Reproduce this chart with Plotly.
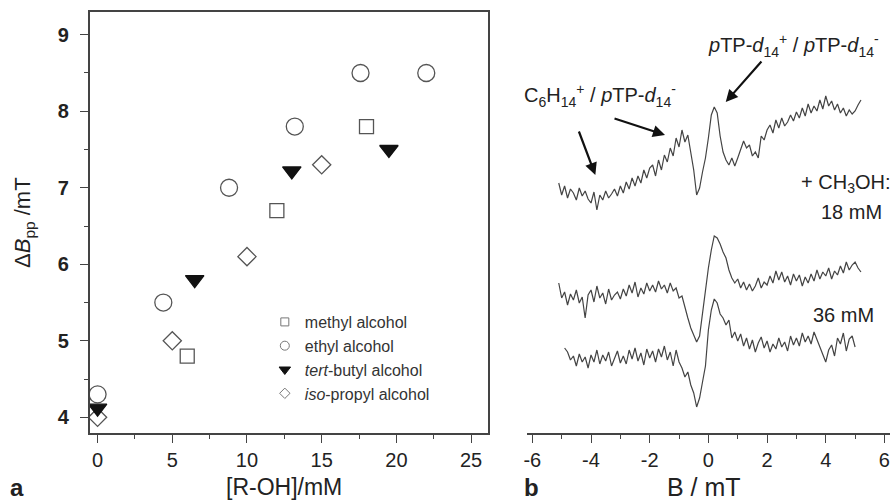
import plotly.graph_objects as go

W, H = 893, 501
def px(x): return x / W
def py(y): return 1 - y / H

FONT = "Liberation Sans, Arial, Helvetica, sans-serif"
INK = "#222222"
AX = "#444444"

# ---------------- panel a data ----------------
methyl_x = [6, 12, 18]
methyl_y = [4.8, 6.7, 7.8]
ethyl_x = [0, 4.4, 8.8, 13.2, 17.6, 22.0]
ethyl_y = [4.3, 5.5, 7.0, 7.8, 8.5, 8.5]
iso_x = [0, 5, 10, 15]
iso_y = [4.0, 5.0, 6.1, 7.3]
tert_x = [0, 6.5, 13, 19.5]
tert_y = [4.12, 5.8, 7.22, 7.5]

x_ticks_a = [0, 5, 10, 15, 20, 25]
y_ticks_a = [4, 5, 6, 7, 8, 9]

# ---------------- panel b data (EPR spectra, a.u.) ----------------
B_top = [round(-5.1 + 0.1 * i, 1) for i in range(104)]
I_top = [250, 238, 247, 235, 244, 240, 233, 245, 237, 242, 234,
         230, 241, 223, 238, 233, 242, 235, 239, 244, 237, 247,
         240, 251, 244, 255, 247, 257, 250, 263, 255, 265,
         268, 257, 273, 263, 278, 271, 285, 277, 295, 286,
         303, 291, 298, 281, 263, 238, 245, 261, 275,
         295, 318, 326, 320, 297, 281, 273, 268, 275, 267,
         275, 283, 292, 285, 288, 277, 281, 275, 297, 293,
         303, 308, 300, 313, 305, 315, 307, 311, 318, 312,
         321, 315, 325, 317, 329, 320, 327, 322, 333, 324,
         337, 327, 332, 323, 329, 320, 325, 317, 323, 319,
         322, 328, 333]

B_18 = [round(-5.1 + 0.1 * i, 1) for i in range(104)]
I_18 = [150, 135, 141, 128, 139, 133, 143, 130, 136, 115, 138,
        143, 131, 147, 135, 140, 129, 144, 133, 138, 141, 134,
        144, 137, 148, 140, 151, 136, 145, 139, 150, 142,
        148, 141, 152, 144, 148, 140, 150, 142, 145, 135,
        137, 125, 115, 105, 98, 91, 97, 120, 141,
        165, 183, 197, 195, 189, 181, 175, 163, 155, 150,
        154, 145, 151, 143, 149, 142, 147, 155, 145, 151,
        148, 157, 150, 162, 153, 161, 151, 157, 148, 159,
        152, 158, 147, 156, 150, 159, 152, 163, 154, 161,
        157, 165, 154, 162, 158, 167, 160, 171, 163, 168,
        171, 165, 161]

B_36 = [round(-4.9 + 0.1 * i, 1) for i in range(100)]
I_36 = [85, 81, 73, 77, 67, 79, 71, 76, 65, 78,
        71, 83, 69, 78, 72, 81, 67, 75, 82, 70,
        77, 69, 83, 74, 85, 72, 80, 68, 84, 75,
        82, 71, 84, 76, 87, 73, 81, 67, 83, 71,
        65, 56, 61, 48, 40, 26, 35, 51, 67,
        103, 123, 134, 130, 119, 115, 108, 113, 95, 101,
        92, 99, 87, 95, 84, 93, 81, 90, 96, 85,
        92, 81, 89, 84, 95, 86, 91, 82, 97, 88,
        95, 87, 100, 91, 97, 89, 101, 93, 85, 77,
        71, 83, 88, 77, 95, 89, 100, 82, 94, 97,
        86]

x_ticks_b = [-6, -4, -2, 0, 2, 4, 6]
x_ticklabels_b = ["-6", "-4", "-2", "0", "2", "4", "6"]

fig = go.Figure()

MC = "#555555"
def series(x, y, sym, size, fill=None):
    return go.Scatter(x=x, y=y, mode="markers", xaxis="x", yaxis="y", showlegend=False,
                      marker=dict(symbol=sym, size=size, color=fill if fill else MC,
                                  line=dict(color=MC if not fill else "#111111", width=1.3)))

fig.add_trace(series(methyl_x, methyl_y, "square-open", 14))
fig.add_trace(series(ethyl_x, ethyl_y, "circle-open", 17))
fig.add_trace(series(iso_x, iso_y, "diamond-open", 14))
fig.add_trace(series(tert_x, tert_y, "triangle-down", 16, fill="#111111"))

# legend entries
leg = [("methyl alcohol", "square-open", 8, None),
       ("ethyl alcohol", "circle-open", 9, None),
       ("<i>tert</i>-butyl alcohol", "triangle-down", 10, "#111111"),
       ("<i>iso</i>-propyl alcohol", "diamond-open", 8, None)]
for name, sym, sz, fill in leg:
    fig.add_trace(go.Scatter(x=[None], y=[None], mode="markers", name=name, xaxis="x", yaxis="y",
                             marker=dict(symbol=sym, size=sz, color=fill if fill else "#777777",
                                         line=dict(color="#777777" if not fill else "#111111", width=1))))

for Bx, Iy in [(B_top, I_top), (B_18, I_18), (B_36, I_36)]:
    fig.add_trace(go.Scatter(x=Bx, y=Iy, mode="lines", xaxis="x2", yaxis="y2", showlegend=False,
                             line=dict(color="#444444", width=1.2)))

ydom = [py(433), py(12)]
fig.update_layout(
    width=W, height=H, autosize=False,
    margin=dict(l=0, r=0, t=0, b=0),
    paper_bgcolor="white", plot_bgcolor="white",
    font=dict(family=FONT, color=INK),
    xaxis=dict(domain=[px(86), px(486)], range=[-0.533, 26.12], anchor="y",
               tickvals=x_ticks_a, ticks="outside", ticklen=8, tickwidth=1.3, tickcolor=AX,
               minor=dict(dtick=2.5, ticklen=4, tickwidth=1.2, tickcolor=AX, ticks="outside"),
               showline=True, linecolor=AX, linewidth=1.5, mirror=True,
               showgrid=False, zeroline=False, tickfont=dict(size=20, color=INK),
               ticklabelstandoff=0),
    yaxis=dict(domain=ydom, range=[3.795, 9.297], anchor="x",
               tickvals=y_ticks_a, ticks="outside", ticklen=8, tickwidth=1.3, tickcolor=AX,
               minor=dict(dtick=0.5, ticklen=4, tickwidth=1.2, tickcolor=AX, ticks="outside"),
               showline=True, linecolor=AX, linewidth=1.5, mirror=True,
               showgrid=False, zeroline=False, tickfont=dict(size=20, color=INK, weight="bold"),
               ticklabelstandoff=7),
    xaxis2=dict(domain=[px(525.7), px(890)], range=[-6.17, 6.19], anchor="y2",
                tickvals=x_ticks_b, ticktext=x_ticklabels_b, ticks="outside", ticklen=8,
                tickwidth=1.3, tickcolor=AX,
                minor=dict(dtick=1, ticklen=4, tickwidth=1.2, tickcolor=AX, ticks="outside"),
                showline=True, linecolor=AX, linewidth=1.5, mirror=False,
                showgrid=False, zeroline=False, tickfont=dict(size=20, color=INK),
                ticklabelstandoff=0),
    yaxis2=dict(domain=ydom, range=[0, 421], anchor="x2", visible=False),
    legend=dict(x=px(262), y=py(305), xanchor="left", yanchor="top",
                bgcolor="rgba(0,0,0,0)", font=dict(size=16, color="#333333"),
                tracegroupgap=0, itemwidth=30),
)

ann = []
def txt(t, x, y, size, xanchor="center", yanchor="middle", angle=0, color=INK):
    ann.append(dict(text=t, x=px(x), y=py(y), xref="paper", yref="paper", showarrow=False,
                    xanchor=xanchor, yanchor=yanchor, textangle=angle,
                    font=dict(size=size, color=color, family=FONT)))

txt("Δ<i>B</i><sub>pp</sub> /mT", 20, 222, 22, angle=-90)
txt("[R-OH]/mM", 281, 487, 23)
txt("B / mT", 703, 487, 25)
txt("<b>a</b>", 13, 487, 24)
txt("<b>b</b>", 530, 487, 24)
txt("C<sub>6</sub>H<sub>14</sub><sup>+</sup> / <i>p</i>TP-<i>d</i><sub>14</sub><sup>-</sup>", 520, 96, 20, xanchor="left")
txt("<i>p</i>TP-<i>d</i><sub>14</sub><sup>+</sup> / <i>p</i>TP-<i>d</i><sub>14</sub><sup>-</sup>", 705, 45, 20, xanchor="left")
txt("+ CH<sub>3</sub>OH:", 892, 184, 20, xanchor="right")
txt("18 mM", 851, 212, 20)
txt("36 mM", 843, 315, 20)

def arrow(hx, hy, tx, ty):
    ann.append(dict(x=px(hx), y=py(hy), xref="paper", yref="paper", text="",
                    showarrow=True, ax=tx - hx, ay=ty - hy, axref="pixel", ayref="pixel",
                    arrowhead=2, arrowsize=1.1, arrowwidth=2.2, arrowcolor="#111111"))

arrow(594, 175, 577, 130)
arrow(664, 135, 612, 118)
arrow(725, 102, 762, 60)

fig.update_layout(annotations=ann)
fig.write_html("out.html")
